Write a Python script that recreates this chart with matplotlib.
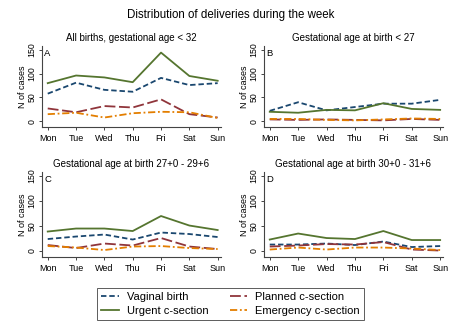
import matplotlib
matplotlib.use("Agg")
import matplotlib.pyplot as plt

plt.rcParams['font.family'] = ['Liberation Sans', 'DejaVu Sans']

days = ["Mon", "Tue", "Wed", "Thu", "Fri", "Sat", "Sun"]
titles = ["All births, gestational age < 32",
          "Gestational age at birth < 27",
          "Gestational age at birth 27+0 - 29+6",
          "Gestational age at birth 30+0 - 31+6"]
letters = ["A", "B", "C", "D"]

# values, one list per panel
vaginal = [[58, 81, 66, 62, 91, 76, 80],
           [22, 40, 23, 30, 37, 37, 45],
           [24, 29, 33, 23, 37, 34, 28],
           [13, 13, 15, 12, 19, 8, 10]]
planned = [[27, 19, 32, 29, 46, 15, 8],
           [4, 3, 4, 3, 2, 5, 3],
           [12, 6, 15, 11, 26, 9, 4],
           [9, 11, 14, 13, 18, 3, 1]]
urgent = [[80, 96, 92, 82, 144, 95, 85],
          [20, 18, 24, 23, 38, 26, 24],
          [39, 45, 45, 40, 70, 51, 42],
          [23, 35, 26, 24, 40, 22, 22]]
emergency = [[15, 18, 8, 17, 20, 19, 7],
             [5, 5, 3, 2, 4, 6, 5],
             [10, 7, 2, 9, 10, 6, 4],
             [3, 7, 3, 7, 7, 5, 2]]

W, H = 462, 336
fig = plt.figure(figsize=(W / 100, H / 100), dpi=100)
fig.patch.set_facecolor("white")

# panel boxes in pixels: left, right, top, bottom
boxes = [(41.5, 220.5, 46.4, 127.3),
         (263.5, 443, 46.4, 127.3),
         (41.5, 220.5, 172.5, 257.3),
         (263.5, 443, 172.5, 257.3)]

navy = "#1a476f"
maroon = "#90353b"
green = "#55752f"
orange = "#e37e00"
x = list(range(len(days)))
handles = []
for i in range(4):
    l, r, t, b = boxes[i]
    ax = fig.add_axes([l / W, 1 - b / H, (r - l) / W, (b - t) / H])
    h1, = ax.plot(x, vaginal[i], color=navy, lw=1.3, dashes=(3, 1.6))
    h2, = ax.plot(x, planned[i], color=maroon, lw=1.3, dashes=(6, 2))
    h3, = ax.plot(x, urgent[i], color=green, lw=1.3)
    h4, = ax.plot(x, emergency[i], color=orange, lw=1.3, dashes=(4, 1.5, 1, 1.5))
    handles = [h1, h3, h2, h4]
    ax.set_xlim(-0.22, 6.1)
    ax.set_ylim(-12.5, 157)
    ax.set_xticks(x)
    ax.set_xticklabels(days, fontsize=6.5)
    ax.set_yticks([0, 50, 100, 150])
    ax.set_yticklabels(["0", "50", "100", "150"], fontsize=6.3, rotation=90, va="center")
    ax.spines["top"].set_visible(False)
    ax.spines["right"].set_visible(False)
    for s in ["left", "bottom"]:
        ax.spines[s].set_color("#444444")
        ax.spines[s].set_linewidth(0.8)
    ax.tick_params(length=2.5, width=0.7, color="#444444", pad=2)
    ax.tick_params(axis="y", pad=1.2)
    ax.set_ylabel("N of cases", fontsize=6.5, labelpad=0.5)
    ax.set_title(titles[i], fontsize=7, pad=4)
    ax.text(0.015, 0.97, letters[i], transform=ax.transAxes, fontsize=6.8, va="top", ha="left")

fig.text(0.5, 1 - 15 / H, "Distribution of deliveries during the week", ha="center", va="center", fontsize=8.3)

leg = fig.legend(handles, ["Vaginal birth", "Urgent c-section", "Planned c-section", "Emergency c-section"],
                 ncol=2, loc="center", bbox_to_anchor=(230.5 / W, 1 - 304 / H), fontsize=8,
                 frameon=True, fancybox=False, edgecolor="#333333", handlelength=1.6,
                 handletextpad=0.7, columnspacing=1.9, labelspacing=0.35, borderpad=0.35)
leg.get_frame().set_linewidth(0.7)

fig.savefig("out.png", dpi=100, facecolor="white")
